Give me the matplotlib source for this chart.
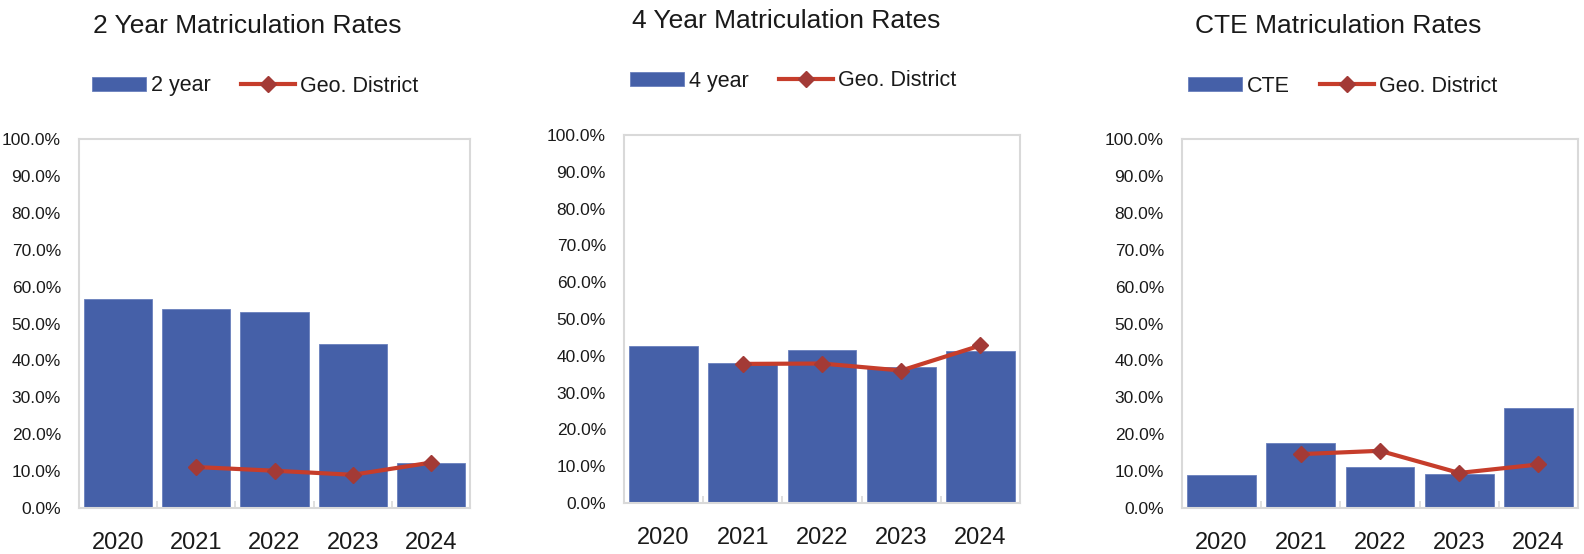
import matplotlib
matplotlib.use("Agg")
import matplotlib.pyplot as plt
from matplotlib.ticker import PercentFormatter, FixedLocator

plt.rcParams['font.family'] = ['Liberation Sans', 'DejaVu Sans']

years = ["2020", "2021", "2022", "2023", "2024"]

# bars: school rates (%)
two_year = [56.7, 53.8, 53.1, 44.4, 12.2]
four_year = [42.6, 38.0, 41.7, 36.9, 41.3]
cte = [9.0, 17.6, 11.2, 9.2, 27.2]

# line: geographic district rates (%), no value for 2020
geo_two = [None, 11.1, 10.1, 9.0, 12.3]
geo_four = [None, 37.8, 37.9, 36.0, 42.8]
geo_cte = [None, 14.6, 15.5, 9.5, 11.8]

titles = ["2 Year Matriculation Rates", "4 Year Matriculation Rates", "CTE Matriculation Rates"]
bar_labels = ["2 year", "4 year", "CTE"]

BAR = "#4560a8"
LINE = "#c63d2b"
MARK = "#a33a36"
FRAME = "#d9d9d9"

W, H = 1584, 554
fig = plt.figure(figsize=(W / 100, H / 100), dpi=100)

# pixel boxes (left, top, right, bottom) for each panel's axes
boxes = [(79, 139, 470, 508), (624, 135, 1020, 503), (1182, 139, 1578, 508)]
title_pos = [(93, 26), (632, 21), (1195, 26)]
legend_pos = [(92, 86), (630, 81), (1188, 86)]

series = [(two_year, geo_two), (four_year, geo_four), (cte, geo_cte)]

for i, (bars, geo) in enumerate(series):
    l, t, r, b = boxes[i]
    ax = fig.add_axes([l / W, 1 - b / H, (r - l) / W, (b - t) / H])
    x = list(range(len(years)))
    hb = ax.bar(x, bars, width=0.87, color=BAR, edgecolor="#6a80bd", linewidth=0.6,
                label=bar_labels[i], zorder=2)
    gx = [xi for xi, v in zip(x, geo) if v is not None]
    gy = [v for v in geo if v is not None]
    hl, = ax.plot(gx, gy, color=LINE, lw=3, marker="D", ms=8.5, mfc=MARK, mec=MARK,
                  label="Geo. District", zorder=3)

    ax.set_xlim(-0.5, 4.5)
    ax.set_ylim(0, 100)
    ax.set_yticks(range(0, 101, 10))
    ax.yaxis.set_major_formatter(PercentFormatter(decimals=1))
    ax.set_xticks(x)
    ax.set_xticklabels(years)
    ax.xaxis.set_minor_locator(FixedLocator([0.5, 1.5, 2.5, 3.5]))
    ax.tick_params(axis="x", which="major", length=0, pad=17, labelsize=17, labelcolor="#1a1a1a")
    ax.tick_params(axis="x", which="minor", direction="in", length=5, width=1.2, color=FRAME)
    ax.tick_params(axis="y", length=0, pad=13, labelsize=12.5, labelcolor="#1a1a1a")
    for s in ax.spines.values():
        s.set_color(FRAME)
        s.set_linewidth(1.5)

    tx, ty = title_pos[i]
    fig.text(tx / W, 1 - ty / H, titles[i], fontsize=19, va="center", ha="left", color="#1a1a1a")

    lx, ly = legend_pos[i]
    ax.legend([hb, hl], [bar_labels[i], "Geo. District"],
              loc="center left", bbox_to_anchor=(lx / W, 1 - ly / H),
              bbox_transform=fig.transFigure, ncol=2, frameon=False,
              fontsize=15.5, borderpad=0, borderaxespad=0, handlelength=2.5,
              handleheight=0.6, handletextpad=0.25, columnspacing=1.4,
              labelcolor="#1a1a1a")

fig.savefig("out.png", dpi=100)
